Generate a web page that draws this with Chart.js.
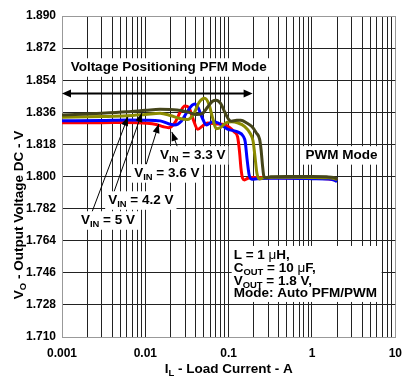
<!DOCTYPE html>
<html>
<head>
<meta charset="utf-8">
<script src="https://cdn.jsdelivr.net/npm/chart.js@4"></script>
<style>
  html, body { margin: 0; padding: 0; background: #fff; }
  #wrap { width: 411px; height: 384px; }
</style>
</head>
<body>
<div id="wrap"><canvas id="chart" width="411" height="384"></canvas></div>
<script>
// axis ticks
const xTickValues = [0.001, 0.01, 0.1, 1, 10];
const xTickLabels = ['0.001', '0.01', '0.1', '1', '10'];
const yTickValues = [1.710, 1.728, 1.746, 1.764, 1.782, 1.800, 1.818, 1.836, 1.854, 1.872, 1.890];

// VIN = 3.3 V (red)
const vin33Load = [0.001, 0.003, 0.006, 0.0105, 0.0135, 0.0165, 0.019, 0.0225, 0.0265, 0.0297, 0.0335, 0.0375, 0.0426, 0.049, 0.056, 0.07, 0.09, 0.117, 0.128, 0.135, 0.141, 0.147, 0.155, 0.17, 0.2, 0.3, 0.5, 1, 1.5, 2];
const vin33Vout = [1.8302, 1.8302, 1.8303, 1.8299, 1.8292, 1.8279, 1.8274, 1.8300, 1.8365, 1.8395, 1.8385, 1.8320, 1.8265, 1.8285, 1.8300, 1.8295, 1.8289, 1.8250, 1.8222, 1.8140, 1.8040, 1.7990, 1.7981, 1.7990, 1.7995, 1.7993, 1.7992, 1.7990, 1.7987, 1.7978];

// VIN = 3.6 V (blue)
const vin36Load = [0.001, 0.003, 0.006, 0.01, 0.015, 0.019, 0.0225, 0.027, 0.032, 0.0365, 0.0392, 0.043, 0.048, 0.054, 0.0643, 0.075, 0.097, 0.128, 0.15, 0.158, 0.166, 0.176, 0.19, 0.22, 0.3, 0.5, 1, 1.5, 1.8, 2];
const vin36Vout = [1.8313, 1.8314, 1.8317, 1.8316, 1.8312, 1.8296, 1.8289, 1.8310, 1.8365, 1.8400, 1.8407, 1.8385, 1.8330, 1.8289, 1.8307, 1.8300, 1.8266, 1.8250, 1.8225, 1.8195, 1.8100, 1.8010, 1.7985, 1.7988, 1.7990, 1.7990, 1.7988, 1.7986, 1.7982, 1.7972];

// VIN = 4.2 V (olive)
const vin42Load = [0.001, 0.003, 0.006, 0.01, 0.015, 0.02, 0.026, 0.032, 0.038, 0.044, 0.0515, 0.058, 0.064, 0.071, 0.08, 0.092, 0.108, 0.13, 0.156, 0.18, 0.196, 0.206, 0.218, 0.235, 0.26, 0.35, 0.6, 1, 1.5, 1.8, 2];
const vin42Vout = [1.8332, 1.8336, 1.8340, 1.8348, 1.8355, 1.8342, 1.8325, 1.8320, 1.8350, 1.8415, 1.8439, 1.8405, 1.8330, 1.8268, 1.8275, 1.8300, 1.8307, 1.8300, 1.8280, 1.8244, 1.8200, 1.8120, 1.8020, 1.7986, 1.7993, 1.7996, 1.7996, 1.7995, 1.7993, 1.7990, 1.7983];

// VIN = 5 V (dark olive)
const vin5Load = [0.001, 0.003, 0.006, 0.01, 0.015, 0.024, 0.033, 0.041, 0.048, 0.056, 0.064, 0.071, 0.08, 0.09, 0.1, 0.108, 0.125, 0.14, 0.165, 0.19, 0.215, 0.235, 0.245, 0.255, 0.265, 0.28, 0.32, 0.5, 1, 1.5, 1.8, 2];
const vin5Vout = [1.8345, 1.8355, 1.8363, 1.8371, 1.8377, 1.8373, 1.8360, 1.8347, 1.8352, 1.8390, 1.8422, 1.8428, 1.8410, 1.8360, 1.8320, 1.8310, 1.8315, 1.8315, 1.8300, 1.8280, 1.8244, 1.8210, 1.8150, 1.8060, 1.8000, 1.7993, 1.7998, 1.8000, 1.8000, 1.7998, 1.7995, 1.7987];

// annotation anchors, in data units (load A, volts)
const vinLabels = ['3.3 V', '3.6 V', '4.2 V', '5 V'];
const vinLabelX = [0.0371, 0.0181, 0.00883, 0.00356];
const vinLabelY = [1.8121, 1.8020, 1.7868, 1.7756];
const vinArrowTail = [[0.0245, 1.8160], [0.0096, 1.8025], [0.0042, 1.7913], [0.00229, 1.7801]];
const vinArrowHead = [[0.0208, 1.8250], [0.0145, 1.8294], [0.0091, 1.8356], [0.00617, 1.8334]];
const pfmArrow = [[0.001, 1.8465], [0.194, 1.8465]];
const pfmLabel = [0.0191, 1.8614];
const pwmLabel = [2.26, 1.8121];
const condLines = [['L = 1 ', 'μ', 'H,'], ['C', 'OUT', ' = 10 ', 'μ', 'F,'], ['V', 'OUT', ' = 1.8 V,'], ['Mode: Auto PFM/PWM']];
const condX = 0.1117;
const condY = [1.7560, 1.7487, 1.7414, 1.7347];

const FONT = '"Liberation Sans", Arial, sans-serif';

function pts(xs, ys) {
  return xs.map((x, i) => ({ x: x, y: ys[i] }));
}

// draw text pieces; sub = subscript, sym = normal-weight symbol
function richWidth(ctx, parts, size) {
  let w = 0;
  parts.forEach(p => {
    ctx.font = (p.sym ? '' : 'bold ') + (p.sub ? size * 0.7 : size) + 'px ' + FONT;
    w += ctx.measureText(p.t).width;
  });
  return w;
}
function drawRich(ctx, parts, x, y, size) {
  ctx.textBaseline = 'middle';
  ctx.textAlign = 'left';
  parts.forEach(p => {
    ctx.font = (p.sym ? '' : 'bold ') + (p.sub ? size * 0.7 : size) + 'px ' + FONT;
    ctx.fillText(p.t, x, p.sub ? y + size * 0.3 : y);
    x += ctx.measureText(p.t).width;
  });
}
function labelBox(ctx, parts, cx, cy, size, pad) {
  const w = richWidth(ctx, parts, size);
  ctx.fillStyle = '#fff';
  ctx.fillRect(cx - w / 2 - pad, cy - size / 2 - 2, w + pad * 2, size + 5);
  ctx.fillStyle = '#000';
  drawRich(ctx, parts, cx - w / 2, cy, size);
}
function arrowHead(ctx, x0, y0, x1, y1, len, half) {
  const a = Math.atan2(y1 - y0, x1 - x0);
  ctx.beginPath();
  ctx.moveTo(x1, y1);
  ctx.lineTo(x1 - len * Math.cos(a) + half * Math.sin(a), y1 - len * Math.sin(a) - half * Math.cos(a));
  ctx.lineTo(x1 - len * Math.cos(a) - half * Math.sin(a), y1 - len * Math.sin(a) + half * Math.cos(a));
  ctx.closePath();
  ctx.fill();
}

const annotations = {
  id: 'annotations',
  afterDraw(chart) {
    const { ctx, scales: { x, y } } = chart;
    const size = 13.5;
    ctx.save();

    // PFM double arrow + label
    const ax0 = x.getPixelForValue(pfmArrow[0][0]), ay = y.getPixelForValue(pfmArrow[0][1]);
    const ax1 = x.getPixelForValue(pfmArrow[1][0]);
    ctx.strokeStyle = '#000';
    ctx.fillStyle = '#000';
    ctx.lineWidth = 2;
    ctx.beginPath();
    ctx.moveTo(ax0 + 6, ay);
    ctx.lineTo(ax1 - 6, ay);
    ctx.stroke();
    arrowHead(ctx, ax1, ay, ax0, ay, 9, 4);
    arrowHead(ctx, ax0, ay, ax1, ay, 9, 4);
    labelBox(ctx, [{ t: 'Voltage Positioning PFM Mode' }], x.getPixelForValue(pfmLabel[0]), y.getPixelForValue(pfmLabel[1]), size, 3);
    labelBox(ctx, [{ t: 'PWM Mode' }], x.getPixelForValue(pwmLabel[0]), y.getPixelForValue(pwmLabel[1]), size, 3);

    // VIN arrows
    ctx.lineWidth = 1;
    vinLabels.forEach((lab, i) => {
      const tx = x.getPixelForValue(vinArrowTail[i][0]), ty = y.getPixelForValue(vinArrowTail[i][1]);
      const hx = x.getPixelForValue(vinArrowHead[i][0]), hy = y.getPixelForValue(vinArrowHead[i][1]);
      ctx.beginPath();
      ctx.moveTo(tx, ty);
      ctx.lineTo(hx, hy);
      ctx.stroke();
      arrowHead(ctx, tx, ty, hx, hy, 9, 3.5);
    });
    vinLabels.forEach((lab, i) => {
      labelBox(ctx, [{ t: 'V' }, { t: 'IN', sub: true }, { t: ' = ' + lab }],
        x.getPixelForValue(vinLabelX[i]), y.getPixelForValue(vinLabelY[i]), size, 3);
    });

    // conditions box
    const lx = x.getPixelForValue(condX);
    const boxTop = y.getPixelForValue(condY[0]) - 9;
    const boxBot = y.getPixelForValue(condY[3]) + 9;
    ctx.fillStyle = '#fff';
    ctx.fillRect(lx - 1, boxTop, 150, boxBot - boxTop);
    ctx.fillStyle = '#000';
    condLines.forEach((line, i) => {
      const parts = line.map(t => ({ t: t, sub: t === 'OUT', sym: t === 'μ' }));
      drawRich(ctx, parts, lx + 1, y.getPixelForValue(condY[i]), size);
    });

    // axis titles with subscripts
    const area = chart.chartArea;
    const xt = [{ t: 'I' }, { t: 'L', sub: true }, { t: ' - Load Current - A' }];
    const xw = richWidth(ctx, xt, size);
    drawRich(ctx, xt, (area.left + area.right) / 2 - xw / 2, 369, size);
    const yt = [{ t: 'V' }, { t: 'O', sub: true }, { t: ' - Output Voltage DC - V' }];
    const yw = richWidth(ctx, yt, size);
    ctx.translate(19, 215);
    ctx.rotate(-Math.PI / 2);
    drawRich(ctx, yt, -yw / 2, 0, size);
    ctx.restore();
  }
};

const gridColor = (edge) => (ctx) => {
  const v = ctx.tick && ctx.tick.value;
  return edge.includes(v) ? '#999' : '#222';
};

const xGrid = [];
for (let d = 0.001; d < 9; d *= 10) {
  for (let k = 1; k <= 9; k++) xGrid.push(+(d * k).toPrecision(3));
}
xGrid.push(10);

new Chart(document.getElementById('chart'), {
  type: 'line',
  data: {
    datasets: [
      { label: 'VIN = 5 V', data: pts(vin5Load, vin5Vout), borderColor: '#45451a' },
      { label: 'VIN = 4.2 V', data: pts(vin42Load, vin42Vout), borderColor: '#8c8c00' },
      { label: 'VIN = 3.6 V', data: pts(vin36Load, vin36Vout), borderColor: '#0000ff' },
      { label: 'VIN = 3.3 V', data: pts(vin33Load, vin33Vout), borderColor: '#ff0000' },
    ].map(d => Object.assign(d, { borderWidth: 3, pointRadius: 0, fill: false, cubicInterpolationMode: 'monotone' })),
  },
  options: {
    responsive: false,
    devicePixelRatio: 1,
    animation: false,
    layout: { padding: { top: 16, right: 15, bottom: 0, left: 0 } },
    plugins: { legend: { display: false }, tooltip: { enabled: false } },
    scales: {
      x: {
        type: 'logarithmic',
        min: 0.001,
        max: 10,
        afterBuildTicks: (scale) => { scale.ticks = xGrid.map(v => ({ value: v })); },
        afterFit: (scale) => { scale.height = 47; },
        ticks: {
          autoSkip: false,
          maxRotation: 0,
          padding: 9,
          color: '#000',
          font: { family: FONT, size: 12, weight: 'bold' },
          callback: (v) => {
            const i = xTickValues.findIndex(t => Math.abs(t - v) < t * 1e-6);
            return i >= 0 ? xTickLabels[i] : '';
          },
        },
        grid: { color: gridColor([0.001, 10]), lineWidth: 1, drawTicks: false },
        border: { color: '#999', width: 1 },
      },
      y: {
        min: 1.710,
        max: 1.890,
        afterBuildTicks: (scale) => { scale.ticks = yTickValues.map(v => ({ value: v })); },
        afterFit: (scale) => { scale.width = 62; },
        ticks: {
          padding: 6,
          color: '#000',
          font: { family: FONT, size: 12, weight: 'bold' },
          callback: (v) => v.toFixed(3),
        },
        grid: { color: gridColor([1.710, 1.890]), lineWidth: 1, drawTicks: false },
        border: { color: '#999', width: 1 },
      },
    },
  },
  plugins: [annotations],
});
</script>
</body>
</html>
